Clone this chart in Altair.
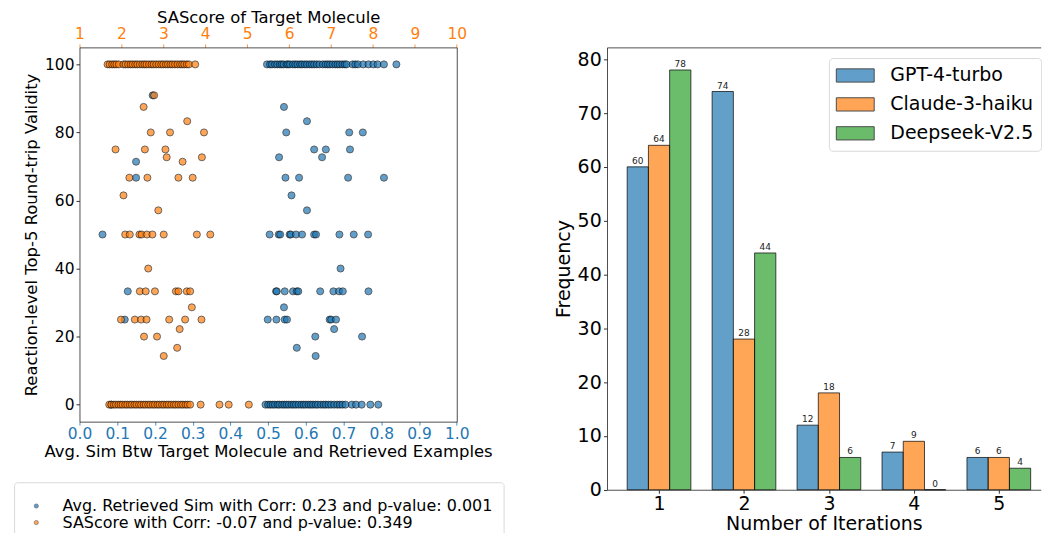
import altair as alt
import pandas as pd

FONT = "DejaVu Sans"
BLUE = "#1f77b4"
ORANGE = "#ff7f0e"
GREEN = "#2ca02c"

# ---------------- left panel data ----------------
# Avg. retrieved similarity (bottom axis) vs validity
blue_sim_100 = [0.497, 0.505, 0.51, 0.518, 0.524, 0.531, 0.536, 0.541, 0.549, 0.553, 0.558,
                0.566, 0.572, 0.578, 0.585, 0.59, 0.597, 0.603, 0.61, 0.616, 0.622, 0.629,
                0.636, 0.645, 0.652, 0.658, 0.664, 0.671, 0.678, 0.684, 0.69, 0.697, 0.703,
                0.708, 0.724, 0.731, 0.738, 0.752, 0.766, 0.779, 0.79, 0.807, 0.840]
blue_sim_0 = [0.084, 0.493, 0.5, 0.506, 0.512, 0.518, 0.525, 0.53, 0.537, 0.543, 0.549, 0.555,
              0.562, 0.568, 0.574, 0.581, 0.588, 0.594, 0.6, 0.607, 0.613, 0.619, 0.626,
              0.632, 0.64, 0.647, 0.653, 0.66, 0.667, 0.675, 0.683, 0.69, 0.697, 0.705,
              0.722, 0.733, 0.748, 0.771, 0.792]
blue_sim_mid = [0.194, 0.542, 0.603, 0.548, 0.715, 0.751, 0.622, 0.653, 0.717, 0.529, 0.643,
                0.150, 0.150, 0.546, 0.582, 0.712, 0.807, 0.562, 0.603,
                0.061, 0.504, 0.528, 0.532, 0.557, 0.560, 0.574, 0.590, 0.622, 0.627, 0.689,
                0.727, 0.765, 0.692,
                0.128, 0.521, 0.523, 0.544, 0.566, 0.576, 0.580, 0.638, 0.673, 0.688, 0.698,
                0.766, 0.542,
                0.120, 0.499, 0.522, 0.544, 0.550, 0.663, 0.667, 0.680, 0.675, 0.625, 0.749,
                0.576, 0.626]
blue_val_mid = [90.9, 87.5, 83.3, 80, 80, 80, 75, 75, 75, 72.7, 72.7,
                71.4, 66.7, 66.7, 66.7, 66.7, 66.7, 61.5, 57.1,
                50, 50, 50, 50, 50, 50, 50, 50, 50, 50, 50,
                50, 50, 40,
                33.3, 33.3, 33.3, 33.3, 33.3, 33.3, 33.3, 33.3, 33.3, 33.3, 33.3,
                33.3, 28.6,
                25, 25, 25, 25, 25, 25, 25, 25, 22.2, 20, 20,
                16.7, 14.3]

# SAScore (top axis) vs validity
orange_sa_100 = [1.67, 1.72, 1.78, 1.83, 1.88, 1.94, 2.05, 2.1, 2.16, 2.22, 2.27, 2.33, 2.38,
                 2.44, 2.5, 2.55, 2.6, 2.66, 2.72, 2.77, 2.83, 2.89, 2.95, 3.0, 3.06, 3.11,
                 3.17, 3.22, 3.28, 3.34, 3.4, 3.45, 3.5, 3.56, 3.61, 3.76]
orange_sa_0 = [1.71, 1.76, 1.82, 1.87, 1.93, 1.98, 2.03, 2.09, 2.14, 2.2, 2.25, 2.31, 2.36,
               2.42, 2.47, 2.53, 2.58, 2.64, 2.69, 2.75, 2.8, 2.86, 2.91, 2.97, 3.02, 3.08,
               3.13, 3.19, 3.25, 3.3, 3.36, 3.42, 3.47, 3.53, 3.58, 3.64, 3.89, 4.34, 4.56,
               5.04]
orange_sa_mid = [2.78, 2.53, 3.57, 2.70, 3.16, 3.97, 1.86, 2.56, 3.05, 3.08, 3.92, 3.46,
                 2.19, 2.62, 3.36, 3.70, 2.05, 2.88,
                 2.09, 2.20, 2.43, 2.48, 2.61, 2.74, 3.01, 3.80, 4.12, 2.64,
                 2.44, 2.58, 2.80, 3.30, 3.36, 3.56, 3.64, 3.68,
                 1.99, 2.32, 2.47, 2.60, 3.14, 3.52, 3.91, 3.39, 2.54, 2.85, 3.33, 3.01]
orange_val_mid = [90.9, 87.5, 83.3, 80, 80, 80, 75, 75, 75, 72.7, 72.7, 71.4,
                  66.7, 66.7, 66.7, 66.7, 61.5, 57.1,
                  50, 50, 50, 50, 50, 50, 50, 50, 50, 40,
                  33.3, 33.3, 33.3, 33.3, 33.3, 33.3, 33.3, 28.6,
                  25, 25, 25, 25, 25, 25, 25, 22.2, 20, 20, 16.7, 14.3]

sim_label = "Avg. Retrieved Sim with Corr: 0.23 and p-value: 0.001"
sa_label = "SAScore with Corr: -0.07 and p-value: 0.349"

# ---------------- right panel data ----------------
iterations = [1, 2, 3, 4, 5]
models = ["GPT-4-turbo", "Claude-3-haiku", "Deepseek-V2.5"]
gpt_freq = [60, 74, 12, 7, 6]
claude_freq = [64, 28, 18, 9, 6]
deepseek_freq = [78, 44, 6, 0, 4]

# ---------------- tables ----------------
df_blue = pd.DataFrame({
    "x": blue_sim_100 + blue_sim_0 + blue_sim_mid,
    "y": [100] * len(blue_sim_100) + [0] * len(blue_sim_0) + blue_val_mid,
})
df_blue["series"] = sim_label
df_orange = pd.DataFrame({
    "x": orange_sa_100 + orange_sa_0 + orange_sa_mid,
    "y": [100] * len(orange_sa_100) + [0] * len(orange_sa_0) + orange_val_mid,
})
df_orange["series"] = sa_label

rows = []
for k, (m, vals) in enumerate(zip(models, [gpt_freq, claude_freq, deepseek_freq])):
    for it, v in zip(iterations, vals):
        rows.append({"iteration": it, "model": m, "k": k, "freq": v})
df_bar = pd.DataFrame(rows)

# ---------------- left panel ----------------
color_left = alt.Scale(domain=[sim_label, sa_label], range=[BLUE, ORANGE])
legend_left = alt.Legend(
    title=" ", titleFontSize=5.3, titlePadding=0,
    orient="none", legendX=-65.6, legendY=436.2,
    labelFont=FONT, labelFontSize=16, labelColor="black", labelLimit=1000,
    symbolType="circle", symbolSize=18, symbolOpacity=0.7,
    symbolStrokeColor="black", symbolStrokeWidth=0.5,
    symbolOffset=3.8, labelOffset=18.3, padding=10.5, rowPadding=0.6,
    strokeColor="#d9d9d9", fillColor="white", cornerRadius=3,
)
yscale_left = alt.Scale(domain=[-5, 105], nice=False, zero=False)
yaxis_left = alt.Axis(
    title="Reaction-level Top-5 Round-trip Validity", values=[0, 20, 40, 60, 80, 100],
    grid=False, domain=True, domainColor="#222", domainWidth=0.8,
    labelFontSize=15.5, titleFontSize=16.5, tickSize=3.5,
    labelPadding=2, titlePadding=5, labelFlush=False,
)
yaxis_left_right = alt.Axis(
    orient="right", title=None, labels=False, ticks=False, grid=False,
    domain=True, domainColor="#222", domainWidth=0.8,
)

blue_layer = alt.Chart(df_blue).mark_circle(
    size=50, opacity=0.7, stroke="black", strokeWidth=0.8
).encode(
    x=alt.X("x:Q", scale=alt.Scale(domain=[0, 1], nice=False, zero=False),
            axis=alt.Axis(orient="bottom", title="Avg. Sim Btw Target Molecule and Retrieved Examples",
                          values=[0, 0.1, 0.2, 0.3, 0.4, 0.5, 0.6, 0.7, 0.8, 0.9, 1.0], format=".1f",
                          labelColor=BLUE, tickColor=BLUE, domain=True, domainColor="#222",
                          domainWidth=0.8, grid=False,
                          labelFontSize=15.5, titleFontSize=16.5, tickSize=3.5, labelPadding=1,
                          titlePadding=2, labelFlush=False, labelOverlap=False)),
    y=alt.Y("y:Q", scale=yscale_left, axis=yaxis_left),
    color=alt.Color("series:N", scale=color_left, legend=legend_left),
)
orange_layer = alt.Chart(df_orange).mark_circle(
    size=50, opacity=0.7, stroke="black", strokeWidth=0.8
).encode(
    x=alt.X("x:Q", scale=alt.Scale(domain=[1, 10], nice=False, zero=False),
            axis=alt.Axis(orient="top", title="SAScore of Target Molecule",
                          values=list(range(1, 11)), format="d",
                          labelColor=ORANGE, tickColor=ORANGE, domain=True, domainColor="#222",
                          domainWidth=0.8, grid=False,
                          labelFontSize=15.5, titleFontSize=16.5, tickSize=3.5, labelPadding=2,
                          titlePadding=1, labelFlush=False, labelOverlap=False)),
    y=alt.Y("y:Q", scale=yscale_left, axis=yaxis_left_right),
    color=alt.Color("series:N", scale=color_left, legend=legend_left),
)
left = alt.layer(blue_layer, orange_layer).resolve_scale(x="independent").resolve_axis(
    y="independent"
).properties(width=378.4, height=375.4)

# ---------------- right panel ----------------
color_right = alt.Scale(domain=models, range=[BLUE, ORANGE, GREEN])
legend_right = alt.Legend(
    title=None, orient="none", legendX=222.5, legendY=10.7,
    labelFont=FONT, labelFontSize=19, labelColor="black", labelLimit=1000,
    symbolType="M-1.9,-0.665H1.9V0.665H-1.9Z", symbolSize=400, symbolOpacity=0.7,
    symbolStrokeColor="black", symbolStrokeWidth=1,
    symbolOffset=9, labelOffset=24.7, padding=7, rowPadding=8,
    strokeColor="#d9d9d9", fillColor="white", cornerRadius=4,
)
xscale_right = alt.Scale(domain=[0.3875, 5.4931], nice=False, zero=False)
yscale_right = alt.Scale(domain=[0, 82.2], nice=False, zero=True)
yaxis_right = alt.Axis(
    title="Frequency", values=[0, 10, 20, 30, 40, 50, 60, 70, 80], grid=False,
    domain=True, domainColor="#222", domainWidth=0.8, labelFontSize=19, titleFontSize=19,
    tickSize=3.5, labelPadding=2.3, titlePadding=3.5, labelFlush=False,
)

base_right = alt.Chart(df_bar).transform_calculate(
    x0="datum.iteration - 0.375 + datum.k * 0.25",
    x1="datum.iteration - 0.125 + datum.k * 0.25",
    xc="datum.iteration - 0.25 + datum.k * 0.25",
)
bars = base_right.mark_bar(
    fillOpacity=0.7, stroke="black", strokeOpacity=0.7, strokeWidth=1
).encode(
    x=alt.X("x0:Q", scale=xscale_right,
            axis=alt.Axis(orient="bottom", title="Number of Iterations", values=iterations,
                          format="d", grid=False, domain=True, domainColor="#222",
                          domainWidth=0.8, labelFontSize=19, titleFontSize=19, tickSize=3.5,
                          labelPadding=1.3, titlePadding=1, labelFlush=False)),
    x2="x1:Q",
    y=alt.Y("freq:Q", scale=yscale_right, axis=yaxis_right),
    y2=alt.datum(0),
    color=alt.Color("model:N", scale=color_right, legend=legend_right),
)
labels = base_right.mark_text(
    font=FONT, fontSize=9, color="#222", baseline="bottom", dy=-1
).encode(
    x=alt.X("xc:Q", scale=xscale_right,
            axis=alt.Axis(orient="top", title=None, labels=False, ticks=False, grid=False,
                          domain=True, domainColor="#222", domainWidth=0.8)),
    y=alt.Y("freq:Q", scale=yscale_right, axis=yaxis_right),
    text=alt.Text("freq:Q", format="d"),
)
right = alt.layer(bars, labels).resolve_axis(x="independent").properties(
    width=435, height=443.7,
)

chart = alt.hconcat(left, right, spacing=150.1, bounds="flush").resolve_scale(
    color="independent"
).properties(
    padding={"left": 4.7, "top": 0.7, "right": -0.6, "bottom": 0},
).configure(
    font=FONT,
).configure_view(
    strokeWidth=0,
).configure_axis(
    labelFont=FONT, titleFont=FONT, titleFontWeight="normal", titleColor="black",
    labelColor="black", tickColor="black", tickWidth=0.8,
)

chart.save("out.html", embed_options={"renderer": "svg", "actions": False})
